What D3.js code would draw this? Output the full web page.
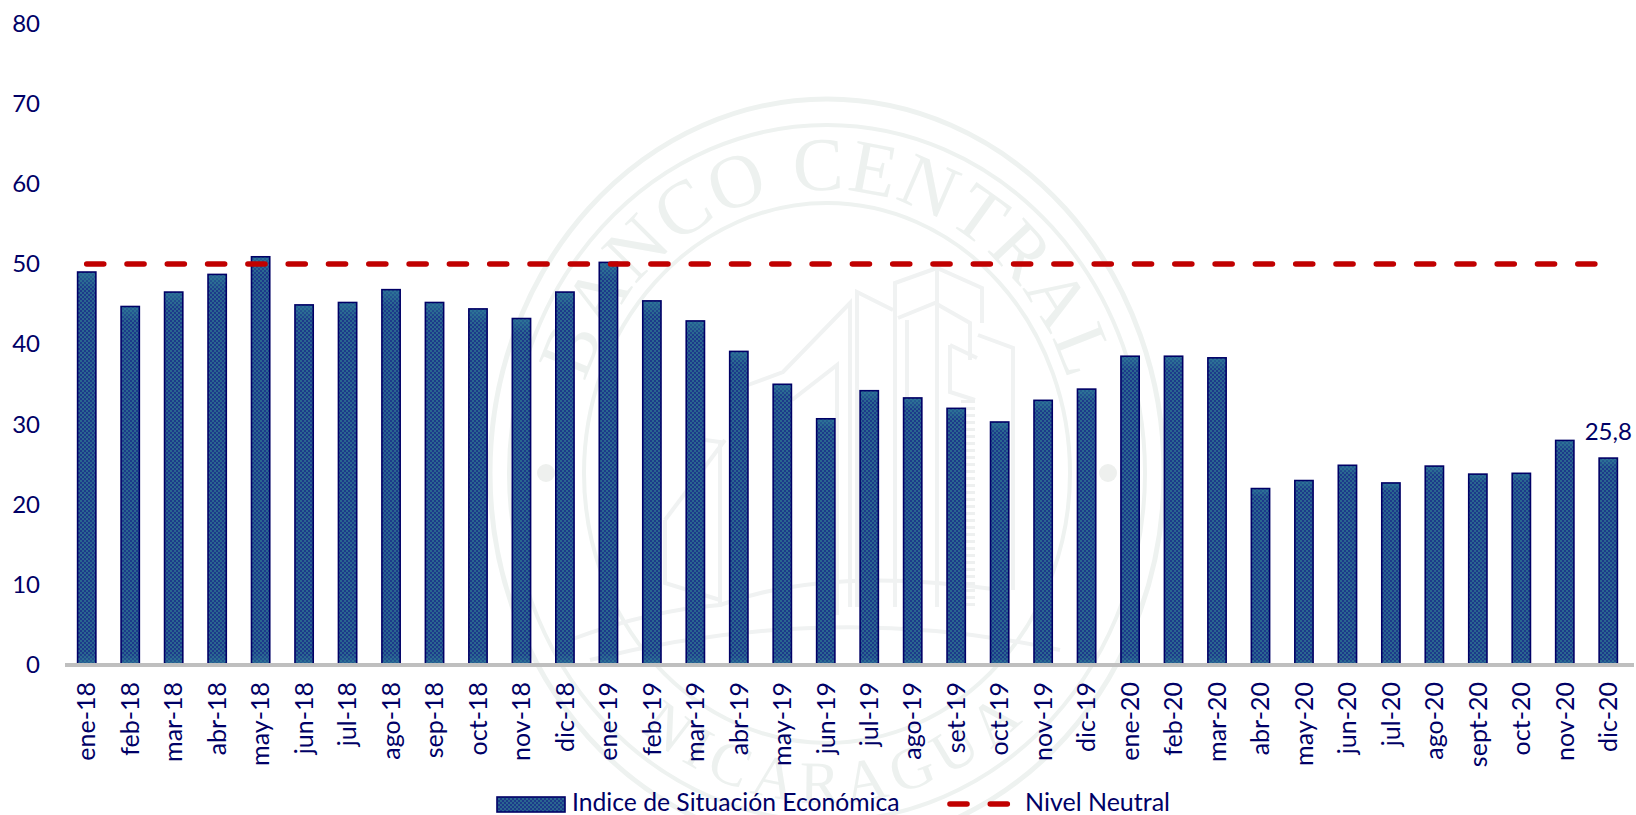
<!DOCTYPE html>
<html>
<head>
<meta charset="utf-8">
<script src="https://cdn.jsdelivr.net/npm/d3@7"></script>
<style>
body { margin: 0; background: #fff; }
svg { display: block; }
text { font-family: Lato, sans-serif; fill: #000066; }
.axis text { font-size: 24px; }
.axis.xa text { font-size: 25px; }
</style>
</head>
<body>
<div id="chart"></div>
<script>
var months = ["ene-18","feb-18","mar-18","abr-18","may-18","jun-18","jul-18","ago-18","sep-18","oct-18","nov-18","dic-18",
  "ene-19","feb-19","mar-19","abr-19","may-19","jun-19","jul-19","ago-19","set-19","oct-19","nov-19","dic-19",
  "ene-20","feb-20","mar-20","abr-20","may-20","jun-20","jul-20","ago-20","sept-20","oct-20","nov-20","dic-20"];
var indice = [49,44.7,46.5,48.7,50.9,44.9,45.2,46.8,45.2,44.4,43.2,46.5,
  50.2,45.4,42.9,39.1,35,30.7,34.2,33.3,32,30.3,33,34.4,
  38.5,38.5,38.3,22,23,24.9,22.7,24.8,23.8,23.9,28,25.8];
var neutral = months.map(function(){ return 50; });
var yTicks = [0,10,20,30,40,50,60,70,80];
var labelled = ["dic-20"];

var width = 1636, height = 815;
var svg = d3.select("#chart").append("svg").attr("width", width).attr("height", height);

var x = d3.scaleBand().domain(months).range([65, 1630]).paddingInner(0.58).paddingOuter(0.29);
var y = d3.scaleLinear().domain([0, 80]).range([665, 23.4]);

// fill of the bars
var defs = svg.append("defs");
var pat = defs.append("pattern").attr("id", "checker").attr("width", 4).attr("height", 4)
    .attr("patternUnits", "userSpaceOnUse");
pat.append("rect").attr("width", 4).attr("height", 4).attr("fill", "#1c3a8a");
pat.append("rect").attr("width", 2).attr("height", 2).attr("fill", "#2a6690");
pat.append("rect").attr("x", 2).attr("y", 2).attr("width", 2).attr("height", 2).attr("fill", "#2a6690");

var grad = defs.append("linearGradient").attr("id", "sheen").attr("x1", 0).attr("x2", 0).attr("y1", 0).attr("y2", 1);
grad.append("stop").attr("offset", 0).attr("stop-color", "#2f7f9c").attr("stop-opacity", 0.6);
grad.append("stop").attr("offset", 0.04).attr("stop-color", "#2f7f9c").attr("stop-opacity", 0);
grad.append("stop").attr("offset", 0.97).attr("stop-color", "#2f7f9c").attr("stop-opacity", 0);
grad.append("stop").attr("offset", 1).attr("stop-color", "#2f7f9c").attr("stop-opacity", 0.6);

// seal watermark behind the chart
var seal = svg.append("g").attr("fill", "none").attr("stroke", "#eef2f0");
var cx = 827, cy = 473;
seal.append("ellipse").attr("cx", cx).attr("cy", cy).attr("rx", 337).attr("ry", 374).attr("stroke-width", 5);
seal.append("ellipse").attr("cx", cx).attr("cy", cy).attr("rx", 318).attr("ry", 348).attr("stroke-width", 4);
seal.append("ellipse").attr("cx", cx).attr("cy", cy).attr("rx", 243).attr("ry", 270).attr("stroke-width", 4);
seal.append("circle").attr("cx", 546).attr("cy", cy).attr("r", 9).attr("fill", "#eef0ee").attr("stroke", "none");
seal.append("circle").attr("cx", 1108).attr("cy", cy).attr("r", 9).attr("fill", "#eef0ee").attr("stroke", "none");

defs.append("path").attr("id", "sealTop").attr("d", "M 572 473 A 255 283 0 0 1 1082 473");
defs.append("path").attr("id", "sealBottom").attr("d", "M 530 473 A 297 330 0 0 0 1124 473");
svg.append("text").style("font-family", "'Liberation Serif', serif").style("font-size", "76px").style("fill", "#edf1ef")
    .style("letter-spacing", "2px")
  .append("textPath").attr("href", "#sealTop").attr("startOffset", "50%").attr("text-anchor", "middle").text("BANCO CENTRAL");
svg.append("text").style("font-family", "'Liberation Serif', serif").style("font-size", "60px").style("fill", "#edf1ef")
    .style("letter-spacing", "8px")
  .append("textPath").attr("href", "#sealBottom").attr("startOffset", "51%").attr("text-anchor", "middle").text("NICARAGUA");

var buildings = [
  "M 748 385 L 783 372 L 850 303 L 850 607",
  "M 792 400 L 837 365 L 837 615",
  "M 857 607 L 857 292 L 893 310",
  "M 895 607 L 895 283 L 937 268 L 982 288 L 982 323",
  "M 898 318 L 935 303 L 970 323 L 970 360",
  "M 907 607 L 907 320",
  "M 937 268 L 937 607",
  "M 978 335 L 1013 348 L 1013 590",
  "M 950 345 L 950 392 L 975 400 M 950 345 L 977 358",
  "M 665 520 L 725 440 M 705 440 L 720 442 L 720 607",
  "M 665 520 L 665 583 L 720 600",
  "M 570 640 Q 650 610 720 605 Q 830 565 1000 590",
  "M 590 660 Q 830 600 1060 650"
];
seal.selectAll("path.b").data(buildings).enter().append("path").attr("class", "b")
    .attr("d", function(d){ return d; }).attr("stroke", "#f0f2f2").attr("stroke-width", 4);
seal.append("path").attr("d", "M 968 400 L 968 610").attr("stroke", "#eef0f0").attr("stroke-width", 14).attr("stroke-dasharray", "3 4");

// y axis
var yAxis = svg.append("g").attr("class", "axis").attr("transform", "translate(40,0)")
    .call(d3.axisLeft(y).tickValues(yTicks).tickSize(0).tickPadding(0));
yAxis.select(".domain").remove();

// bars
svg.selectAll("rect.bar").data(months).enter().append("rect").attr("class", "bar")
    .attr("x", function(d){ return x(d); })
    .attr("y", function(d, i){ return y(indice[i]); })
    .attr("width", x.bandwidth())
    .attr("height", function(d, i){ return y(0) - y(indice[i]); })
    .attr("fill", "url(#checker)")
    .attr("stroke", "#000066")
    .attr("stroke-width", 1.6);
svg.selectAll("rect.sheen").data(months).enter().append("rect").attr("class", "sheen")
    .attr("x", function(d){ return x(d) + 1; })
    .attr("y", function(d, i){ return y(indice[i]) + 1; })
    .attr("width", x.bandwidth() - 2)
    .attr("height", function(d, i){ return y(0) - y(indice[i]) - 1; })
    .attr("fill", "url(#sheen)");

// x axis
var xAxis = svg.append("g").attr("class", "axis xa").attr("transform", "translate(0,665)")
    .call(d3.axisBottom(x).tickSize(0));
xAxis.select(".domain").attr("d", "M65,0H1634").attr("stroke", "#bfbfbf").attr("stroke-width", 4);
xAxis.selectAll("text")
    .attr("transform", "rotate(-90)")
    .attr("text-anchor", "end")
    .attr("x", -17)
    .attr("y", 0)
    .attr("dy", "0.35em");

// neutral line
var line = d3.line()
    .x(function(d, i){ return x(months[i]) + x.bandwidth() / 2; })
    .y(function(d){ return y(d); });
svg.append("path").datum(neutral).attr("d", line)
    .attr("fill", "none").attr("stroke", "#c00000").attr("stroke-width", 5.6)
    .attr("stroke-linecap", "round").attr("stroke-dasharray", "17 23.3");

// value label
svg.selectAll("text.val").data(labelled).enter().append("text").attr("class", "val")
    .attr("x", function(d){ return x(d) + x.bandwidth() / 2; })
    .attr("y", function(d){ return y(indice[months.indexOf(d)]) - 18; })
    .attr("text-anchor", "middle")
    .style("font-size", "24px")
    .text(function(d){ return String(indice[months.indexOf(d)]).replace(".", ","); });

// legend
svg.append("rect").attr("x", 497).attr("y", 797).attr("width", 68).attr("height", 15)
    .attr("fill", "url(#checker)").attr("stroke", "#000066").attr("stroke-width", 1.6);
svg.append("text").attr("x", 572).attr("y", 811).style("font-size", "24.7px").text("Indice de Situación Económica");
svg.append("line").attr("x1", 950).attr("x2", 1008).attr("y1", 804).attr("y2", 804)
    .attr("stroke", "#c00000").attr("stroke-width", 5.6).attr("stroke-linecap", "round").attr("stroke-dasharray", "17 23.3");
svg.append("text").attr("x", 1025).attr("y", 811).style("font-size", "25px").text("Nivel Neutral");
</script>
</body>
</html>
